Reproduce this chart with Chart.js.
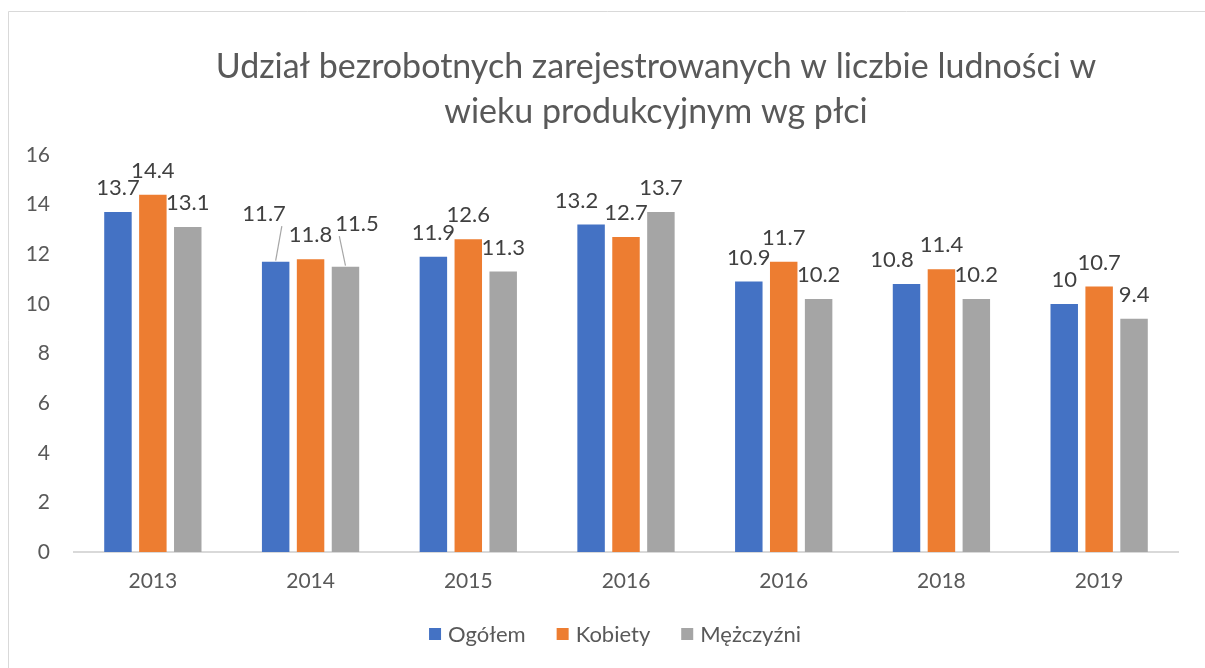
<!DOCTYPE html>
<html>
<head>
<meta charset="utf-8">
<script src="https://cdn.jsdelivr.net/npm/chart.js@4.4.1/dist/chart.umd.min.js"></script>
<style>
html,body{margin:0;padding:0;background:#fff;}
#wrap{position:relative;width:1205px;height:668px;}
</style>
</head>
<body>
<div id="wrap"><canvas id="c" width="1205" height="668"></canvas></div>
<script>
const categories = ["2013", "2014", "2015", "2016", "2016", "2018", "2019"];
const ogolem = [13.7, 11.7, 11.9, 13.2, 10.9, 10.8, 10.0];
const kobiety = [14.4, 11.8, 12.6, 12.7, 11.7, 11.4, 10.7];
const mezczyzni = [13.1, 11.5, 11.3, 13.7, 10.2, 10.2, 9.4];
const seriesNames = ["Ogółem", "Kobiety", "Mężczyźni"];
const yTicks = [0, 2, 4, 6, 8, 10, 12, 14, 16];
const titleLines = ["Udział bezrobotnych zarejestrowanych w liczbie ludności w", "wieku produkcyjnym wg płci"];

const COLORS = ["#4472C4", "#ED7D31", "#A5A5A5"];
const TEXT = "#595959";
const FONT = "Lato, 'Open Sans', sans-serif";

const framePlugin = {
  id: 'frame',
  beforeDraw(chart) {
    const ctx = chart.ctx;
    ctx.save();
    ctx.fillStyle = '#fff';
    ctx.fillRect(0, 0, chart.width, chart.height);
    ctx.strokeStyle = '#D9D9D9';
    ctx.lineWidth = 1;
    ctx.beginPath();
    ctx.moveTo(8.5, 700);
    ctx.lineTo(8.5, 11.5);
    ctx.lineTo(1300, 11.5);
    ctx.stroke();
    ctx.restore();
  }
};

const titlePlugin = {
  id: 'ttl',
  afterDraw(chart) {
    const ctx = chart.ctx;
    ctx.save();
    ctx.fillStyle = TEXT;
    ctx.font = "34px " + FONT;
    ctx.textAlign = 'center';
    ctx.textBaseline = 'alphabetic';
    ctx.fillText(titleLines[0], 656, 78);
    ctx.fillText(titleLines[1], 656, 123);
    ctx.restore();
  }
};

const legendPlugin = {
  id: 'lgd',
  afterDraw(chart) {
    const ctx = chart.ctx;
    ctx.save();
    ctx.font = "22px " + FONT;
    ctx.textBaseline = 'middle';
    ctx.textAlign = 'left';
    const box = 12, gapBT = 7, gapItem = 31;
    const items = chart.data.datasets.map(d => ({label: d.label, color: d.backgroundColor, w: ctx.measureText(d.label).width}));
    let total = 0;
    items.forEach((it, i) => { total += box + gapBT + it.w + (i < items.length - 1 ? gapItem : 0); });
    let x = 615 - total / 2;
    const cy = 634;
    items.forEach(it => {
      ctx.fillStyle = it.color;
      ctx.fillRect(x, cy - box / 2, box, box);
      x += box + gapBT;
      ctx.fillStyle = TEXT;
      ctx.fillText(it.label, x, cy + 1);
      x += it.w + gapItem;
    });
    ctx.restore();
  }
};

const labelPlugin = {
  id: 'vals',
  afterDatasetsDraw(chart) {
    const ctx = chart.ctx;
    ctx.save();
    ctx.font = "22px " + FONT;
    ctx.fillStyle = '#404040';
    ctx.textAlign = 'center';
    ctx.textBaseline = 'middle';
    const nSets = chart.data.datasets.length;
    const nCats = chart.data.labels.length;
    const H = 16;
    for (let c = 0; c < nCats; c++) {
      const labs = [];
      for (let s = 0; s < nSets; s++) {
        const el = chart.getDatasetMeta(s).data[c];
        const v = chart.data.datasets[s].data[c];
        const txt = String(v);
        labs.push({x: el.x, y: el.y - 24, bx: el.x, by: el.y, txt, w: ctx.measureText(txt).width, dx: 0, dy: 0, lead: false});
      }
      const mid = Math.floor(nSets / 2);
      const m = labs[mid];
      [mid - 1, mid + 1].forEach(i => {
        const L = labs[i];
        if (!L) return;
        const ovX = (L.w + m.w) / 2 + 2 - Math.abs(L.x - m.x);
        const ovY = H - Math.abs(L.y - m.y);
        if (ovX > 0 && ovY > 0) {
          const dir = i < mid ? -1 : 1;
          if (Math.abs(L.y - m.y) < 8) {
            L.dx = dir * (ovX + 1);
            L.dy = -(ovY + 10);
            L.lead = true;
          } else {
            L.dx = dir * (ovX + 4);
          }
        }
      });
      labs.forEach(L => {
        const x = L.x + L.dx, y = L.y + L.dy;
        if (L.lead) {
          ctx.strokeStyle = '#A6A6A6';
          ctx.lineWidth = 1.2;
          ctx.beginPath();
          ctx.moveTo(L.bx, L.by - 1);
          ctx.lineTo(x - (L.dx > 0 ? L.w / 2 - 4 : -L.w / 2 + 4), y + 12);
          ctx.stroke();
        }
        ctx.fillText(L.txt, x, y);
      });
    }
    ctx.restore();
  }
};

const values = [ogolem, kobiety, mezczyzni];
new Chart(document.getElementById('c'), {
  type: 'bar',
  data: {
    labels: categories,
    datasets: values.map((arr, i) => ({
      label: seriesNames[i],
      data: arr,
      backgroundColor: COLORS[i],
      borderWidth: 0,
      categoryPercentage: 0.664,
      barPercentage: 0.787
    }))
  },
  options: {
    responsive: false,
    animation: false,
    devicePixelRatio: 1,
    layout: { padding: { left: 27, right: 27, top: 155, bottom: 76 } },
    plugins: {
      legend: { display: false },
      title: { display: false },
      tooltip: { enabled: false }
    },
    scales: {
      x: {
        grid: { display: false, drawTicks: false },
        border: { display: true, color: '#D9D9D9', width: 2 },
        ticks: { color: TEXT, font: { family: FONT, size: 21 }, padding: 17, maxRotation: 0 },
        afterFit(scale) { scale.height = 40; }
      },
      y: {
        min: 0, max: 16,
        afterBuildTicks(scale) { scale.ticks = yTicks.map(v => ({value: v})); },
        grid: { display: false, drawTicks: false },
        border: { display: false },
        ticks: { color: TEXT, font: { family: FONT, size: 21 }, padding: 24 },
        afterFit(scale) { scale.width = 47; }
      }
    }
  },
  plugins: [framePlugin, labelPlugin, titlePlugin, legendPlugin]
});
</script>
</body>
</html>
